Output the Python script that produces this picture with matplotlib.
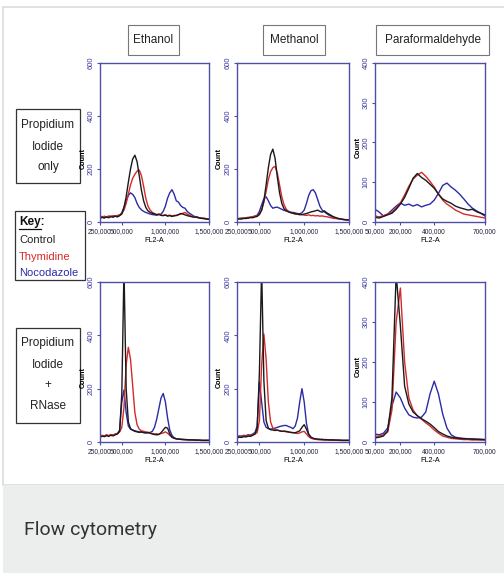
import numpy as np
import matplotlib
matplotlib.use('Agg')
import matplotlib.pyplot as plt
from matplotlib.patches import Rectangle
from matplotlib.lines import Line2D

W, H = 504, 574

### FL2-A grids (shared by the three curves of a panel)
fl2_alc = np.arange(250000, 1500001, 25000)
fl2_pfa = np.arange(50000, 700001, 25000)

### Propidium iodide only
eth_pi_control = [14, 17, 15, 19, 16, 20, 18, 22, 19, 24, 30, 55, 95, 150, 200, 238, 252, 228, 175, 120,
                  80, 55, 42, 36, 33, 30, 27, 29, 25, 24, 26, 22, 24, 21, 23, 25, 28, 32, 30, 27,
                  24, 22, 20, 18, 19, 16, 15, 13, 14, 11, 10]
eth_pi_thymidine = [20, 18, 22, 19, 23, 21, 24, 22, 25, 27, 32, 45, 70, 105, 140, 165, 180, 192, 196, 175,
                    135, 90, 60, 45, 36, 32, 28, 30, 26, 25, 27, 24, 26, 23, 25, 24, 27, 30, 33, 36,
                    30, 26, 22, 20, 18, 17, 15, 14, 13, 12, 11]
eth_pi_nocodazole = [18, 21, 17, 20, 19, 22, 20, 23, 21, 25, 35, 55, 80, 100, 110, 104, 92, 70, 55, 46,
                     40, 36, 33, 30, 28, 27, 26, 28, 30, 40, 60, 90, 110, 122, 105, 80, 75, 62, 55, 52,
                     40, 33, 28, 22, 20, 18, 15, 14, 12, 11, 10]

meth_pi_control = [10, 12, 11, 14, 13, 15, 17, 16, 19, 21, 28, 45, 80, 140, 205, 255, 275, 240, 170, 110,
                   70, 50, 42, 38, 35, 33, 31, 30, 29, 28, 30, 32, 35, 38, 40, 42, 45, 40, 37, 42,
                   35, 30, 25, 20, 17, 14, 12, 10, 9, 8, 8]
meth_pi_thymidine = [12, 14, 13, 15, 16, 18, 17, 20, 22, 24, 30, 45, 75, 115, 160, 190, 205, 210, 185, 140,
                     95, 65, 48, 40, 36, 33, 30, 29, 27, 28, 26, 25, 27, 24, 25, 23, 24, 22, 23, 21,
                     20, 18, 16, 14, 13, 12, 11, 10, 9, 9, 8]
meth_pi_nocodazole = [14, 12, 15, 13, 16, 15, 18, 20, 22, 26, 40, 65, 88, 95, 80, 62, 52, 55, 56, 52,
                      48, 44, 42, 40, 37, 36, 34, 32, 31, 35, 45, 70, 100, 118, 122, 110, 85, 60, 45, 38,
                      32, 26, 22, 18, 15, 13, 12, 10, 9, 8, 8]

pfa_pi_control = [12, 10, 14, 18, 22, 32, 45, 62, 85, 110, 122, 112, 105, 95, 85, 70, 58, 52, 47, 40,
                  36, 33, 30, 32, 26, 22, 18]
pfa_pi_thymidine = [15, 13, 16, 20, 25, 35, 48, 68, 90, 108, 118, 125, 115, 102, 88, 70, 55, 45, 38, 30,
                    25, 20, 18, 16, 14, 12, 10]
pfa_pi_nocodazole = [32, 25, 15, 20, 30, 40, 48, 42, 45, 40, 44, 38, 42, 45, 55, 72, 92, 98, 88, 80,
                     70, 58, 45, 35, 28, 22, 15]

### Propidium iodide + RNase
eth_rn_control = [18, 22, 20, 24, 21, 25, 23, 27, 30, 40, 180, 650, 200, 75, 50, 44, 40, 38, 36, 38,
                  35, 34, 36, 33, 30, 28, 27, 28, 35, 45, 55, 52, 30, 18, 14, 12, 11, 10, 10, 9,
                  9, 8, 8, 8, 7, 7, 7, 6, 6, 6, 6]
eth_rn_thymidine = [22, 25, 23, 27, 24, 28, 26, 30, 32, 38, 55, 130, 290, 355, 310, 210, 110, 65, 48, 42,
                    40, 38, 36, 34, 32, 30, 31, 29, 32, 34, 38, 33, 25, 18, 14, 12, 11, 10, 9, 9,
                    8, 8, 8, 7, 7, 7, 6, 6, 6, 6, 6]
eth_rn_nocodazole = [20, 24, 22, 26, 23, 27, 25, 29, 32, 45, 150, 195, 110, 60, 48, 45, 42, 40, 38, 37,
                     36, 35, 34, 36, 40, 55, 85, 125, 165, 182, 150, 90, 45, 25, 16, 12, 11, 10, 9, 9,
                     8, 8, 8, 7, 7, 7, 6, 6, 6, 6, 6]

meth_rn_control = [15, 18, 17, 20, 19, 22, 21, 25, 30, 50, 260, 650, 230, 80, 52, 46, 45, 43, 45, 42,
                   40, 41, 40, 38, 36, 35, 35, 38, 42, 55, 65, 48, 28, 18, 14, 12, 11, 10, 10, 9,
                   9, 8, 8, 8, 7, 7, 7, 6, 6, 6, 6]
meth_rn_thymidine = [18, 21, 20, 23, 22, 25, 24, 27, 30, 35, 80, 290, 405, 310, 150, 75, 52, 46, 44, 42,
                     40, 40, 38, 37, 36, 35, 33, 32, 34, 38, 40, 30, 20, 14, 12, 10, 9, 9, 8, 8,
                     8, 7, 7, 7, 7, 6, 6, 6, 6, 6, 6]
meth_rn_nocodazole = [20, 23, 22, 25, 24, 27, 26, 30, 35, 60, 225, 150, 75, 55, 50, 48, 50, 52, 55, 58,
                      60, 62, 62, 58, 55, 50, 60, 90, 150, 200, 150, 70, 30, 18, 13, 11, 10, 9, 9, 8,
                      8, 8, 7, 7, 7, 7, 6, 6, 6, 6, 6]

pfa_rn_control = [10, 12, 15, 28, 110, 420, 290, 140, 95, 75, 66, 58, 52, 45, 36, 26, 20, 15, 12, 10,
                  9, 8, 8, 7, 7, 6, 6]
pfa_rn_thymidine = [14, 15, 18, 25, 80, 300, 385, 200, 110, 80, 65, 57, 48, 40, 30, 22, 15, 12, 9, 8,
                    7, 6, 6, 5, 5, 5, 5]
pfa_rn_nocodazole = [20, 18, 22, 35, 90, 125, 110, 85, 68, 62, 60, 62, 75, 120, 152, 120, 70, 35, 18, 12,
                     10, 9, 8, 8, 7, 7, 6]

fixatives = ['Ethanol', 'Methanol', 'Paraformaldehyde']
treatments = ['Control', 'Thymidine', 'Nocodazole']
alc_xticks = [250000, 500000, 1000000, 1500000]
pfa_xticks = [50000, 200000, 400000, 700000]
alc_yticks = [0, 200, 400, 600]
pfa_yticks = [0, 100, 200, 300, 400]

colors = ['#1a1a1a', '#d42a2a', '#2b2ba6']
axis_blue = '#4f4fa8'
sans = ['Liberation Sans', 'DejaVu Sans']


def fig_rect(l, t, r, b):
    '''pixel box (from top-left) -> figure fraction [x, y, w, h]'''
    return [l / W, 1 - b / H, (r - l) / W, (b - t) / H]


def add_box(fig, l, t, r, b, ec, lw=0.8, fc='white', z=-1):
    x, y, w, h = fig_rect(l, t, r, b)
    fig.patches.append(Rectangle((x, y), w, h, transform=fig.transFigure,
                                 facecolor=fc, edgecolor=ec, linewidth=lw, zorder=z))


def ftext(fig, x, y, s, **kw):
    fig.text(x / W, 1 - y / H, s, **kw)


def draw_panel(ax, x, curves, xlim, xticks, ylim, yticks, ylab_y):
    ### blue first so that control / thymidine sit on top like the original
    for c, col in zip(curves[::-1], colors[::-1]):
        ax.plot(x, c, color=col, lw=1.0)
    ax.set_xlim(xlim)
    ax.set_ylim(ylim)
    ax.set_xticks(xticks)
    ax.set_xticklabels(['{:,}'.format(v) for v in xticks], family=sans, fontsize=4.8,
                       color='#22223a')
    ax.set_yticks(yticks)
    ax.set_yticklabels([str(v) for v in yticks], family=sans, fontsize=5.5, color='#3a3aa0',
                       rotation=90, va='center')
    ax.tick_params(direction='out', length=2.5, width=0.8, color=axis_blue, pad=1.5)
    for sp in ax.spines.values():
        sp.set_color(axis_blue)
        sp.set_linewidth(1.0)
    ax.set_xlabel('FL2-A', fontsize=5.2, family=sans, labelpad=2)
    ax.set_ylabel('Count', fontsize=5.2, family=sans, fontweight='bold')
    ax.yaxis.set_label_coords(-0.125, ylab_y)


def main():
    fig = plt.figure(figsize=(W / 100, H / 100), dpi=100)
    fig.patch.set_facecolor('white')

    ### page frame and caption strip, kept behind the axes
    add_box(fig, 3, 7, 505, 485, '#dcdcdc', lw=1.2, fc='none', z=-2)
    add_box(fig, 3, 485, 505, 573, '#eceeee', lw=0, fc='#eceeee', z=-2)
    ftext(fig, 24, 530, 'Flow cytometry', fontsize=14, color='#333333', va='center',
          family=['Roboto', 'Liberation Sans', 'DejaVu Sans'])

    cols = [(100, 209), (237, 349), (375, 485)]
    rows = [(63, 222), (282, 442)]
    data = [
        [(fl2_alc, [eth_pi_control, eth_pi_thymidine, eth_pi_nocodazole]),
         (fl2_alc, [meth_pi_control, meth_pi_thymidine, meth_pi_nocodazole]),
         (fl2_pfa, [pfa_pi_control, pfa_pi_thymidine, pfa_pi_nocodazole])],
        [(fl2_alc, [eth_rn_control, eth_rn_thymidine, eth_rn_nocodazole]),
         (fl2_alc, [meth_rn_control, meth_rn_thymidine, meth_rn_nocodazole]),
         (fl2_pfa, [pfa_rn_control, pfa_rn_thymidine, pfa_rn_nocodazole])],
    ]
    for r, (t, b) in enumerate(rows):
        for c, (l, rr) in enumerate(cols):
            ax = fig.add_axes(fig_rect(l, t, rr, b))
            x, curves = data[r][c]
            if c < 2:
                draw_panel(ax, x, curves, (250000, 1500000), alc_xticks, (0, 600), alc_yticks, 0.4)
            else:
                draw_panel(ax, x, curves, (50000, 700000), pfa_xticks, (0, 400), pfa_yticks, 0.47)

    ### column headers
    heads = [(128, 179), (263, 325), (376, 489)]
    for name, (l, r) in zip(fixatives, heads):
        add_box(fig, l, 25, r, 55, '#777777', lw=0.8)
        ftext(fig, (l + r) / 2, 40, name, fontsize=8.5, ha='center', va='center',
              family=sans, color='#222222')

    ### row labels
    add_box(fig, 16, 109, 80, 183, '#333333', lw=0.9)
    for s, y in zip(['Propidium', 'Iodide', 'only'], [125, 147, 167]):
        ftext(fig, 48, y, s, fontsize=8.5, ha='center', va='center', family=sans,
              color='#222222')
    add_box(fig, 16, 328, 80, 423, '#333333', lw=0.9)
    for s, y in zip(['Propidium', 'Iodide', '+', 'RNase'], [343, 365, 385, 406]):
        ftext(fig, 48, y, s, fontsize=8.5, ha='center', va='center', family=sans,
              color='#222222')

    ### key
    add_box(fig, 15, 211, 85, 280, '#333333', lw=0.9)
    ftext(fig, 19, 222, 'Key:', fontsize=8.5, fontweight='bold', va='center', family=sans,
          color='#111111')
    fig.lines.append(Line2D([19 / W, 41 / W], [1 - 229 / H, 1 - 229 / H], transform=fig.transFigure,
                            color='#111111', lw=0.9))
    for s, y, col in zip(treatments, [240, 257, 273], ['#222222', '#d42a2a', '#2b2ba6']):
        ftext(fig, 19, y, s, fontsize=8, va='center', family=sans, color=col)

    plt.savefig('out.png', dpi=100)


if __name__ == '__main__':
    main()
